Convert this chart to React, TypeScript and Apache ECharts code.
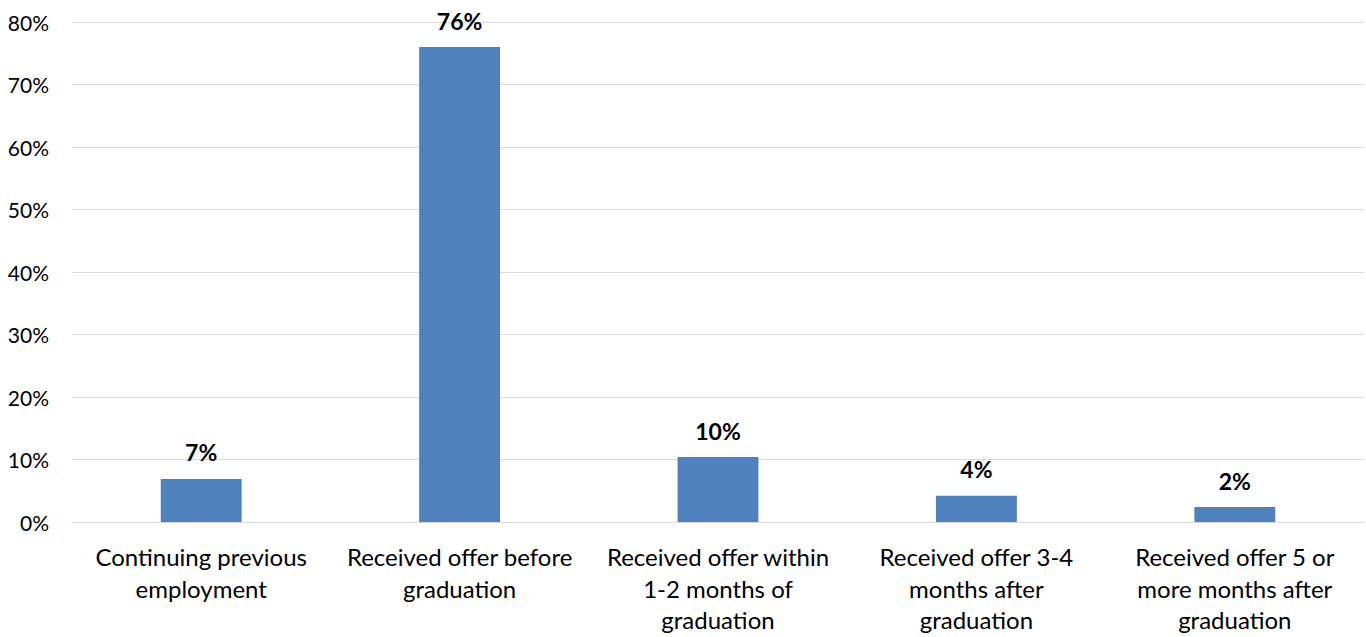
import React, { useEffect, useRef } from "react";
import * as echarts from "echarts";

const categories = [
  "Continuing previous\nemployment",
  "Received offer before\ngraduation",
  "Received offer within\n1-2 months of\ngraduation",
  "Received offer 3-4\nmonths after\ngraduation",
  "Received offer 5 or\nmore months after\ngraduation",
];
const values = [6.9, 76.0, 10.4, 4.2, 2.4];
const yTicks = { min: 0, max: 80, interval: 10 };

const FONT = "Lato, 'Open Sans', sans-serif";

export default function App() {
  const ref = useRef<HTMLDivElement>(null);
  useEffect(() => {
    if (!ref.current) return;
    const chart = echarts.init(ref.current, null, { renderer: "svg" });
    chart.setOption({
      animation: false,
      backgroundColor: "#ffffff",
      grid: { left: 72, right: 2, top: 22, bottom: 115, containLabel: false },
      xAxis: {
        type: "category",
        data: categories,
        axisLine: { show: true, lineStyle: { color: "#d9d9d9", width: 1 } },
        axisTick: { show: false },
        axisLabel: {
          interval: 0,
          color: "#000000",
          fontFamily: FONT,
          fontSize: 24,
          lineHeight: 31.5,
          margin: 19,
        },
      },
      yAxis: {
        type: "value",
        min: yTicks.min,
        max: yTicks.max,
        interval: yTicks.interval,
        axisLine: { show: false },
        axisTick: { show: false },
        splitLine: { lineStyle: { color: "#d9d9d9", width: 1 } },
        axisLabel: {
          color: "#000000",
          fontFamily: FONT,
          fontSize: 21,
          margin: 23,
          formatter: (v: number) => `${v}%`,
        },
      },
      series: [
        {
          type: "bar",
          data: values,
          barWidth: "31.3%",
          itemStyle: { color: "#4f81bd" },
          label: {
            show: true,
            position: "top",
            distance: 15,
            color: "#000000",
            fontFamily: FONT,
            fontSize: 23,
            fontWeight: "bold",
            formatter: (p: any) => `${Math.round(p.value)}%`,
          },
        },
      ],
    });
    return () => chart.dispose();
  }, []);
  return (
    <div
      ref={ref}
      style={{ position: "fixed", left: 0, top: 0, width: 1366, height: 637 }}
    />
  );
}
